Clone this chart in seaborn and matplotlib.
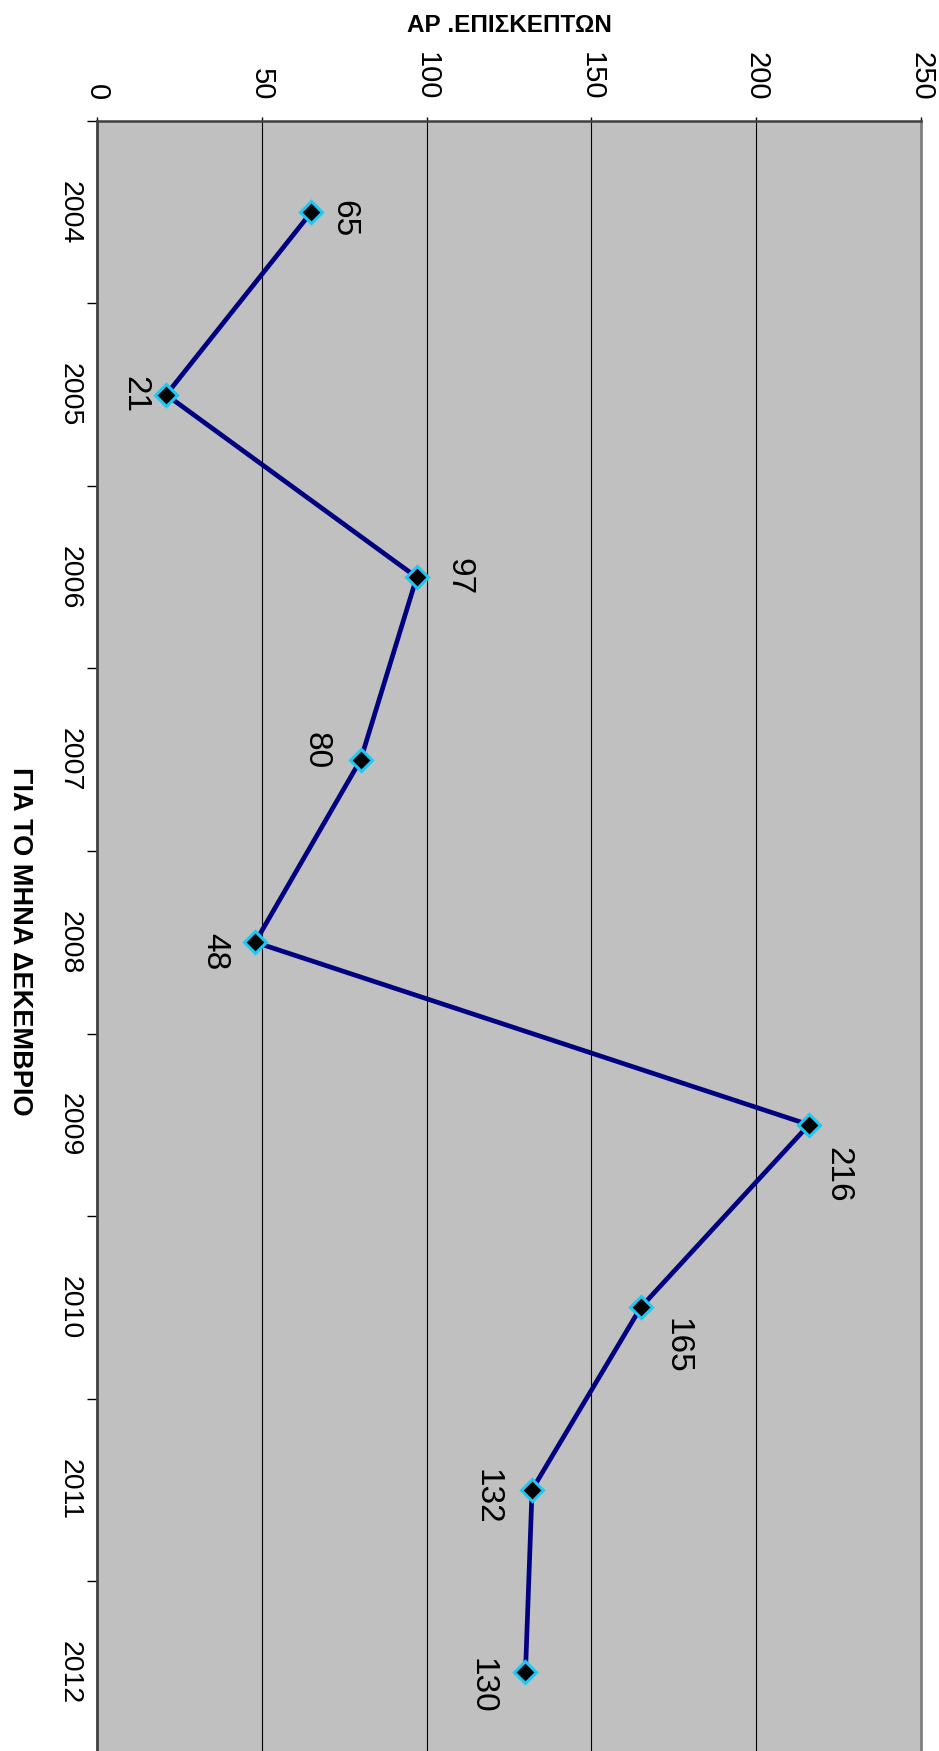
import numpy as np
import pandas as pd
import matplotlib
matplotlib.use('Agg')
import matplotlib.pyplot as plt
import seaborn as sns

years = ['2004', '2005', '2006', '2007', '2008', '2009', '2010', '2011', '2012']
visitors = [65, 21, 97, 80, 48, 216, 165, 132, 130]
value_ticks = [0, 50, 100, 150, 200, 250]
value_title = 'ΑΡ .ΕΠΙΣΚΕΠΤΩΝ'
category_title = 'ΓΙΑ ΤΟ ΜΗΝΑ ΔΕΚΕΜΒΡΙΟ'

# where each data label sits relative to its point (pixels, dx right, dy down)
label_offsets = [(33, 6), (-31, 0), (42, -1), (-45, -9), (-40, 9),
                 (29, 50), (36, 39), (-45, 7), (-43, 14)]

sns.set_style('white')
plt.rcParams['font.family'] = ['Liberation Sans', 'DejaVu Sans']
plt.rcParams['text.color'] = 'black'
plt.rcParams['xtick.color'] = 'black'
plt.rcParams['ytick.color'] = 'black'

df = pd.DataFrame({'pos': np.arange(len(years)), 'visitors': visitors})

fig = plt.figure(figsize=(9.39, 17.51), dpi=100)
# the chart is turned a quarter turn clockwise; the bottom runs off the page
ax = fig.add_axes([97 / 939, -12.5 / 1751, 824 / 939, (1751 - 121 + 12.5) / 1751])
ax.set_facecolor('#c0c0c0')

sns.lineplot(data=df, x='visitors', y='pos', orient='y', sort=False, ax=ax,
             color='#000080', linewidth=3.4)
ax.plot(df['visitors'], df['pos'], linestyle='none', marker='D', markersize=11.5,
        markerfacecolor='black', markeredgecolor='#1ec8f0', markeredgewidth=2.2,
        zorder=5)

for i, v in enumerate(visitors):
    dx, dy = label_offsets[i]
    ax.annotate(str(v), (v, i), xytext=(dx, -dy), textcoords='offset pixels',
                rotation=270, ha='center', va='center', fontsize=24,
                color='black')

ax.set_xlim(0, 250)
ax.set_ylim(len(years) - 0.5, -0.5)
ax.set_xticks(value_ticks)
ax.set_xticklabels([str(t) for t in value_ticks], rotation=270, fontsize=21)
ax.xaxis.tick_top()
ax.tick_params(axis='x', top=True, bottom=False, labeltop=True, labelbottom=False,
               length=3, width=1, color='black', pad=12)

ax.set_yticks(np.arange(len(years)))
ax.set_yticklabels(years, rotation=270, fontsize=20.5, va='center')
ax.set_yticks(np.arange(len(years) + 1) - 0.5, minor=True)
ax.tick_params(axis='y', which='major', length=0, pad=10)
ax.tick_params(axis='y', which='minor', left=True, length=7, width=1, color='black')

ax.grid(False)
for t in value_ticks[1:]:
    ax.axvline(t, color='black', linewidth=0.8, zorder=1)

ax.set_xlabel('')
ax.set_ylabel('')
ax.spines['left'].set_color('#404040')
ax.spines['left'].set_linewidth(2)
ax.spines['top'].set_color('#404040')
ax.spines['top'].set_linewidth(1.8)
ax.spines['right'].set_color('#808080')
ax.spines['right'].set_linewidth(2)
ax.spines['bottom'].set_visible(False)

fig.text(509 / 939, 1 - 25 / 1751, value_title, ha='center', va='center',
         fontsize=17.5, fontweight='bold',
         family=['Liberation Sans Narrow', 'Liberation Sans', 'DejaVu Sans'])
fig.text(20 / 939, 1 - 941 / 1751, category_title, ha='center', va='center',
         rotation=270, fontsize=19.5, fontweight='bold')

fig.savefig('out.png', dpi=100)
